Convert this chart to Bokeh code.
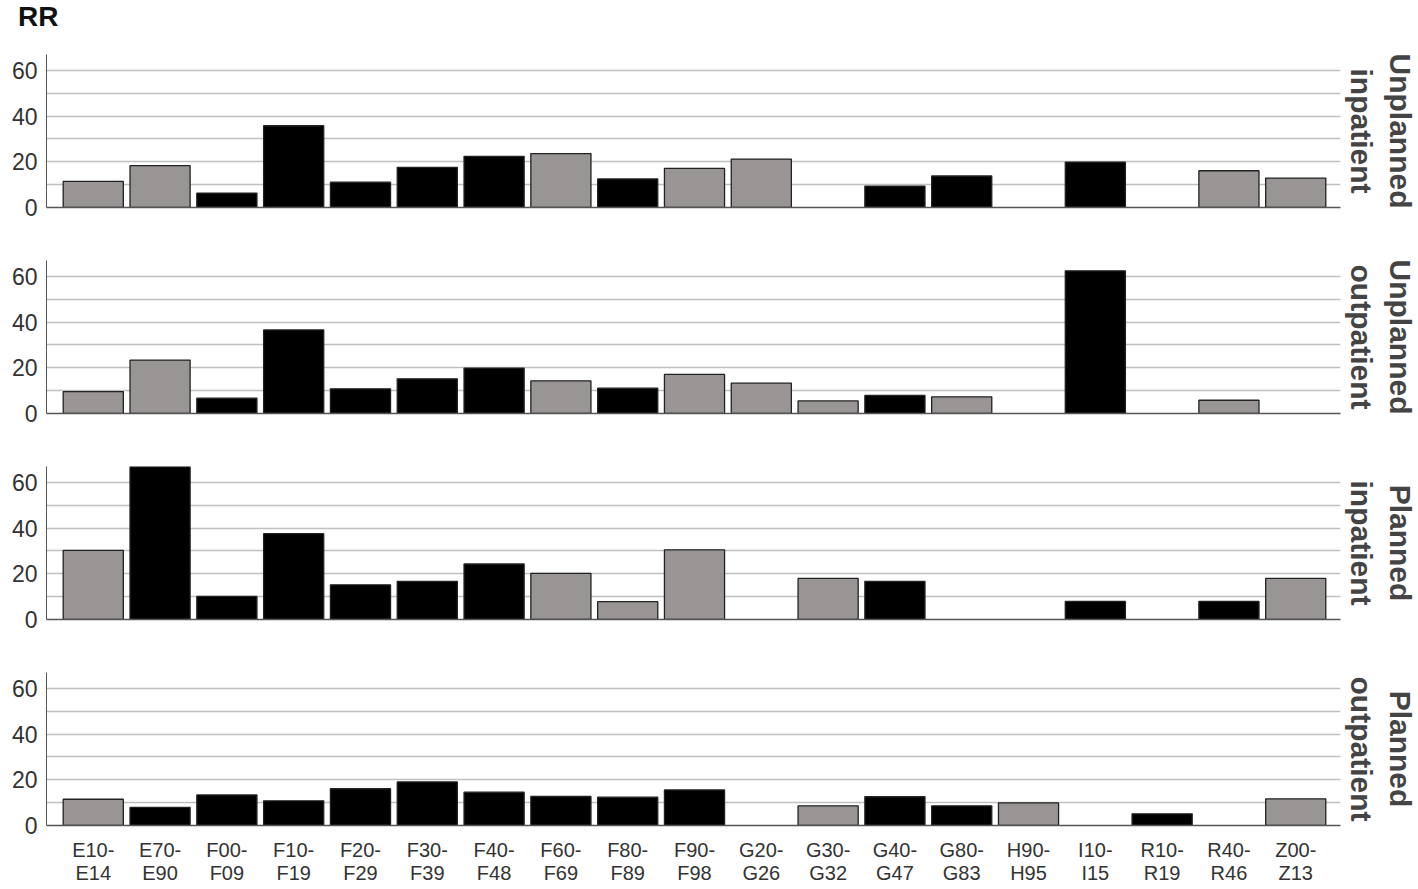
from bokeh.plotting import figure
from bokeh.models import Range1d, FixedTicker, Title, ColumnDataSource, Div
from bokeh.layouts import column
from bokeh.embed import file_html
from bokeh.resources import INLINE

categories = ["E10-E14", "E70-E90", "F00-F09", "F10-F19", "F20-F29", "F30-F39",
              "F40-F48", "F60-F69", "F80-F89", "F90-F98", "G20-G26", "G30-G32",
              "G40-G47", "G80-G83", "H90-H95", "I10-I15", "R10-R19", "R40-R46", "Z00-Z13"]

panel_titles = [("Unplanned", "inpatient"), ("Unplanned", "outpatient"),
                ("Planned", "inpatient"), ("Planned", "outpatient")]

rr_unplanned_inpatient = [11.4, 18.3, 6.3, 35.8, 11.1, 17.6, 22.4, 23.6, 12.5, 17.1,
                          21.2, None, 9.4, 13.8, None, 19.9, None, 16.1, 12.9]
sig_unplanned_inpatient = [0, 0, 1, 1, 1, 1, 1, 0, 1, 0, 0, 0, 1, 1, 0, 1, 0, 0, 0]

rr_unplanned_outpatient = [9.6, 23.4, 6.7, 36.6, 10.8, 15.2, 19.9, 14.3, 11.1, 17.1,
                           13.3, 5.5, 7.9, 7.3, None, 62.5, None, 5.8, None]
sig_unplanned_outpatient = [0, 0, 1, 1, 1, 1, 1, 0, 1, 0, 0, 0, 1, 0, 0, 1, 0, 0, 0]

rr_planned_inpatient = [30.3, 66.9, 10.1, 37.6, 15.2, 16.7, 24.3, 20.2, 7.8, 30.5,
                        None, 18.0, 16.7, None, None, 7.9, None, 7.9, 18.0]
sig_planned_inpatient = [0, 1, 1, 1, 1, 1, 1, 0, 0, 0, 0, 0, 1, 0, 0, 1, 0, 1, 0]

rr_planned_outpatient = [11.5, 7.9, 13.4, 10.8, 16.1, 19.1, 14.6, 12.7, 12.4, 15.6,
                         None, 8.6, 12.6, 8.6, 9.9, None, 5.1, None, 11.7]
sig_planned_outpatient = [0, 1, 1, 1, 1, 1, 1, 1, 1, 1, 0, 0, 1, 1, 0, 0, 1, 0, 0]

y_label = "RR"
y_ticks = [0, 20, 40, 60]
grid_ticks = [10, 20, 30, 40, 50, 60]

series = [rr_unplanned_inpatient, rr_unplanned_outpatient,
          rr_planned_inpatient, rr_planned_outpatient]
sigs = [sig_unplanned_inpatient, sig_unplanned_outpatient,
        sig_planned_inpatient, sig_planned_outpatient]

FONT = "Liberation Sans"
GRAY = "#9a9595"
x_range = Range1d(-0.7, len(categories) - 0.33)

header = Div(text=y_label, width=300, height=40, margin=(0, 0, 0, 0),
             styles={"font-family": FONT, "font-size": "28px", "font-weight": "bold",
                     "color": "#111111", "padding-left": "18px", "line-height": "34px"})

figs = [header]
for k, (vals, sig) in enumerate(zip(series, sigs)):
    last = k == len(series) - 1
    first = k == 0
    p = figure(output_backend="svg", toolbar_location=None, title=None,
               frame_width=1294, frame_height=153,
               x_range=x_range, y_range=Range1d(0, 67),
               min_border_left=46, min_border_right=0,
               min_border_top=14 if first else 26,
               min_border_bottom=50 if last else 27)
    xs, tops, fills = [], [], []
    for i, v in enumerate(vals):
        if v is None:
            continue
        xs.append(i)
        tops.append(v)
        fills.append("#000000" if sig[i] else GRAY)
    src = ColumnDataSource(dict(x=xs, top=tops, fill=fills))
    p.vbar(x="x", top="top", bottom=0, width=0.9, source=src,
           fill_color="fill", line_color="#222222", line_width=1.3)

    p.outline_line_color = None
    p.background_fill_color = "white"
    p.xgrid.visible = False
    p.ygrid.ticker = FixedTicker(ticks=grid_ticks)
    p.ygrid.grid_line_color = "#c0c0c0"
    p.ygrid.grid_line_width = 1.6

    p.yaxis.ticker = FixedTicker(ticks=y_ticks)
    p.yaxis.major_tick_out = 0
    p.yaxis.major_tick_in = 0
    p.yaxis.minor_tick_out = 0
    p.yaxis.minor_tick_in = 0
    p.yaxis.axis_line_color = "#555555"
    p.yaxis.major_label_text_font = FONT
    p.yaxis.major_label_text_font_size = "23px"
    p.yaxis.major_label_text_color = "#333333"
    p.yaxis.major_label_standoff = 9

    p.xaxis.major_tick_out = 0
    p.xaxis.major_tick_in = 0
    p.xaxis.minor_tick_out = 0
    p.xaxis.minor_tick_in = 0
    p.xaxis.axis_line_color = "#555555"
    p.xaxis.axis_line_width = 1.3
    if last:
        p.xaxis.ticker = FixedTicker(ticks=list(range(len(categories))))
        p.xaxis.major_label_overrides = {i: c.replace("-", "-\n") for i, c in enumerate(categories)}
        p.xaxis.major_label_text_font = FONT
        p.xaxis.major_label_text_font_size = "20px"
        p.xaxis.major_label_text_color = "#333333"
        p.xaxis.major_label_text_line_height = 1.05
        p.xaxis.major_label_standoff = 13
    else:
        p.xaxis.ticker = FixedTicker(ticks=[])

    line1, line2 = panel_titles[k]
    p.add_layout(Title(text=line2, align="center", text_font=FONT, text_font_size="30px",
                       text_font_style="bold", standoff=8), "right")
    p.add_layout(Title(text=line1, align="center", text_font=FONT, text_font_size="30px",
                       text_font_style="bold", standoff=0), "right")
    figs.append(p)

layout = column(*figs, spacing=0)
open("out.html", "w").write(file_html(layout, INLINE))
